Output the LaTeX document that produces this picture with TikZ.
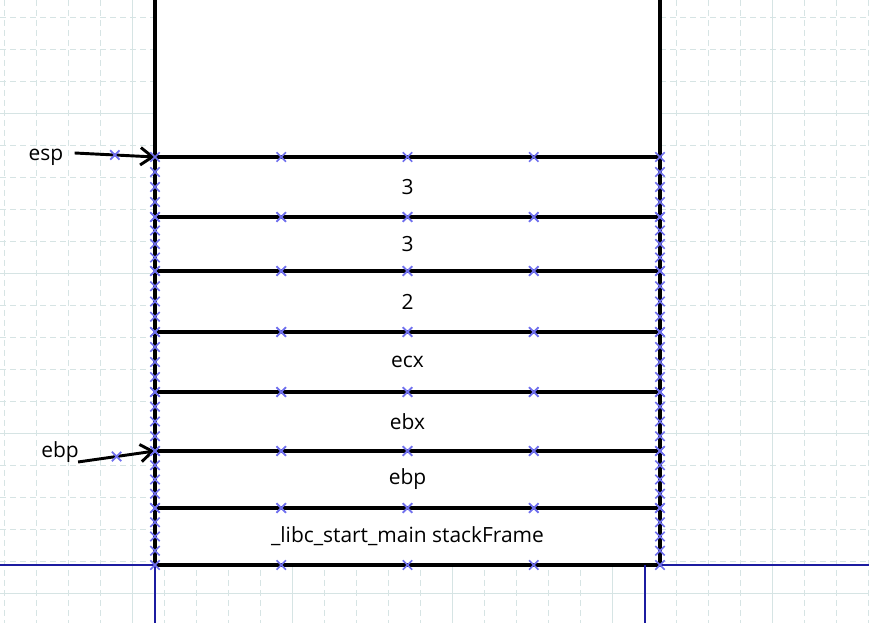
\documentclass[tikz,border=0pt]{standalone}
\usepackage{fontspec}
\setmainfont{Open Sans}
\usetikzlibrary{arrows.meta, positioning, calc}
\definecolor{gridc}{RGB}{214,228,228}
\definecolor{mkblue}{RGB}{112,112,238}
\definecolor{pageblue}{RGB}{28,28,160}
\tikzstyle{cell} = [rectangle, 
minimum width=378.75pt, 
inner sep=0pt, outer sep=0pt,
draw=black, line width=2.4pt,
fill=white, font=\fontsize{15.7}{18}\selectfont]
\tikzstyle{lbl} = [font=\fontsize{15.7}{18}\selectfont]
\tikzstyle{ptr} = [-{Straight Barb[length=9pt,width=13pt]}, line width=2.2pt]
\tikzstyle{xcross} = [draw=mkblue, line width=1.3pt]
\tikzstyle{minor} = [gridc, line width=0.75pt, dash pattern=on 4.5pt off 3pt]
\tikzstyle{major} = [gridc, line width=0.75pt]
\newcommand{\mk}[1]{\draw[xcross] #1 +(-3.5pt,-3.5pt) -- +(3.5pt,3.5pt) +(-3.5pt,3.5pt) -- +(3.5pt,-3.5pt);}

\begin{document}
\begin{tikzpicture}[x=0.75pt, y=-0.75pt]

		\useasboundingbox (0,0) rectangle (869,623);
		\clip (0,0) rectangle (869,623);
		
		% grid
		\foreach \gx in {4,36,...,868}
			\draw[minor] (\gx,0) -- (\gx,623);
		\foreach \gy in {18,50,...,626}
			\draw[minor] (0,\gy) -- (869,\gy);
		\foreach \gx in {132,292,...,772}
			\draw[major] (\gx,0) -- (\gx,623);
		\foreach \gy in {114,274,...,594}
			\draw[major] (0,\gy) -- (869,\gy);
		
		% stack cells
		\node[cell, minimum height=45pt] (c1) at (407.5,187) {3};
		\node[cell, minimum height=40.5pt, below=0pt of c1] (c2) {3};
		\node[cell, minimum height=45.75pt, below=0pt of c2] (c3) {2};
		\node[cell, minimum height=45pt, below=0pt of c3] (c4) {ecx};
		\node[cell, minimum height=44.25pt, below=0pt of c4] (c5) {ebx};
		\node[cell, minimum height=42.75pt, below=0pt of c5] (c6) {ebp};
		\node[cell, minimum height=42.75pt, below=0pt of c6] (c7) {\_libc\_start\_main stackFrame};
		\node[cell, minimum height=135pt, above=0pt of c1] (top) {};
		
		% page border
		\draw[pageblue, line width=1.2pt] (0,565) -- (c7.south west) -- ++(0,60);
		\draw[pageblue, line width=1.2pt] (869,565) -- (c7.south east);
		\draw[pageblue, line width=1.2pt] ([xshift=-11.25pt]c7.south east) -- ++(0,60);
		
		% pointers
		\node[lbl] (esp) at (46,157) {esp};
		\node[lbl] (ebp) at (60,452) {ebp};
		\draw[ptr] ([xshift=5pt,yshift=3pt]esp.east) -- coordinate[pos=.5] (espmid) (c1.north west);
		\draw[ptr] ([xshift=-4pt,yshift=-7.5pt]ebp.east) -- coordinate[pos=.5] (ebpmid) (c6.north west);
		
		% connection points
		\foreach \c in {c1,c2,c3,c4,c5,c6,c7} {
			\foreach \q in {0,0.25,0.5,0.75,1} {
				\mk{($(\c.north west)!\q!(\c.south west)$)}
				\mk{($(\c.north east)!\q!(\c.south east)$)}
			}
			\foreach \q in {0.25,0.5,0.75} {
				\mk{($(\c.north west)!\q!(\c.north east)$)}
				\mk{($(\c.south west)!\q!(\c.south east)$)}
			}
		}
		\mk{(espmid)}
		\mk{(ebpmid)}
		
	\end{tikzpicture}
\end{document}
